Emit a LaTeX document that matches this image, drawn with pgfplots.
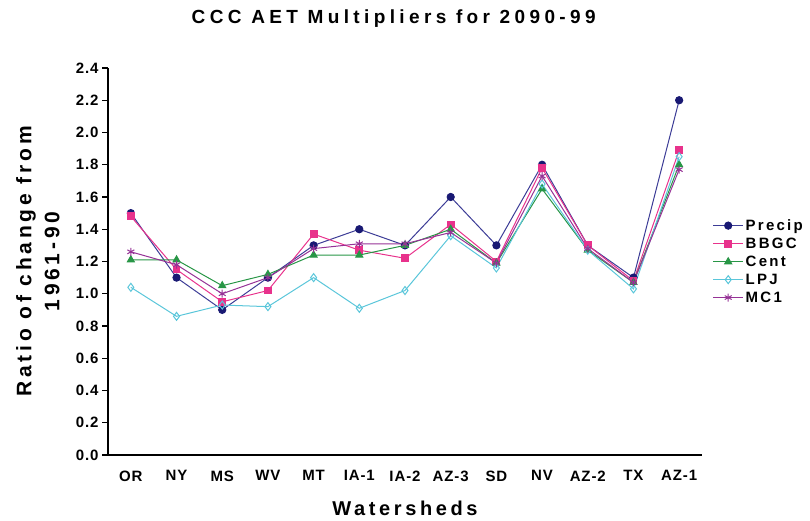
\documentclass[border=0pt]{standalone}
\usepackage{fontspec}
\setmainfont{Liberation Sans}
\newfontfamily\titlefont[LetterSpace=23]{Liberation Sans}
\newfontfamily\labfont[LetterSpace=18]{Liberation Sans}
\newfontfamily\legfont[LetterSpace=15]{Liberation Sans}
\newfontfamily\tickfont[LetterSpace=6]{Liberation Sans}
\usepackage{pgfplots}
\pgfplotsset{compat=1.18}
\definecolor{cprecip}{RGB}{25,25,115}
\definecolor{lprecip}{RGB}{60,60,150}
\definecolor{cbbgc}{RGB}{232,50,140}
\definecolor{ccent}{RGB}{40,150,70}
\definecolor{clpj}{RGB}{90,198,218}
\definecolor{cmc}{RGB}{150,50,150}
\begin{document}
\begin{tikzpicture}[x=1pt,y=1pt]
\path[use as bounding box] (-108,-66) rectangle (702,455);
\begin{axis}[
  at={(0,0)}, anchor=south west,
  scale only axis, width=594pt, height=387pt,
  xmin=-0.5, xmax=12.5, ymin=0, ymax=2.4,
  axis x line=bottom, axis y line=left,
  axis line style={-, line width=1.4pt},
  tick align=outside,
  major tick length=6pt,
  tick style={line width=1.2pt, black},
  xtick={0,...,12},
  xticklabels={OR,NY,MS,WV,MT,IA-1,IA-2,AZ-3,SD,NV,AZ-2,TX,AZ-1},
  x tick style={draw=none},
  extra x ticks={0.5,1.5,...,11.5},
  extra x tick labels={},
  extra x tick style={tick style={draw=black, line width=1.2pt}, major tick length=6pt},
  ytick={0,0.2,...,2.41},
  yticklabel style={/pgf/number format/.cd, fixed, fixed zerofill, precision=1, assume math mode=true},
  ticklabel style={font=\tickfont\bfseries\fontsize{15}{17}\selectfont},
  xticklabel style={yshift=-6pt},
  title={CCC AET Multipliers for 2090-99},
  title style={at={(axis description cs:0.481,1.112)}, anchor=center, font=\titlefont\bfseries\fontsize{19}{21}\selectfont},
  xlabel={Watersheds},
  xlabel style={at={(axis description cs:0.5,-0.137)}, anchor=center, font=\labfont\bfseries\fontsize{20}{22}\selectfont},
  ylabel={Ratio of change from\\1961-90},
  ylabel style={at={(axis description cs:-0.118,0.5)}, anchor=center, rotate=0, align=center,
    font=\labfont\bfseries\fontsize{21}{28}\selectfont},
  clip=false,
  legend style={at={(axis description cs:1.016,0.5)}, anchor=west, draw=none, fill=none,
    font=\legfont\bfseries\fontsize{15}{17}\selectfont, row sep=2pt, inner sep=1pt},
  legend cell align=left,
  legend image code/.code={\draw[mark repeat=2,mark phase=2,#1] plot coordinates {(0pt,0pt) (15pt,0pt) (30pt,0pt)};},
  every axis plot/.append style={line width=1pt},
]
\addplot[color=lprecip, mark=*, mark options={fill=cprecip, draw=cprecip}, mark size=3.6pt]
  coordinates {(0,1.50)(1,1.10)(2,0.90)(3,1.10)(4,1.30)(5,1.40)(6,1.30)(7,1.60)(8,1.30)(9,1.80)(10,1.30)(11,1.10)(12,2.20)};
\addlegendentry{Precip}
\addplot[color=cbbgc, mark=square*, mark options={fill=cbbgc}, mark size=3.4pt]
  coordinates {(0,1.48)(1,1.15)(2,0.95)(3,1.02)(4,1.37)(5,1.27)(6,1.22)(7,1.43)(8,1.20)(9,1.78)(10,1.30)(11,1.08)(12,1.89)};
\addlegendentry{BBGC}
\addplot[color=ccent, mark=triangle*, mark options={fill=ccent}, mark size=4pt]
  coordinates {(0,1.21)(1,1.21)(2,1.05)(3,1.12)(4,1.24)(5,1.24)(6,1.30)(7,1.40)(8,1.19)(9,1.65)(10,1.27)(11,1.07)(12,1.80)};
\addlegendentry{Cent}
\addplot[color=clpj, mark=diamond, mark options={fill=white, line width=1pt}, mark size=4pt]
  coordinates {(0,1.04)(1,0.86)(2,0.93)(3,0.92)(4,1.10)(5,0.91)(6,1.02)(7,1.36)(8,1.16)(9,1.68)(10,1.27)(11,1.03)(12,1.85)};
\addlegendentry{LPJ}
\addplot[color=cmc, mark=asterisk, mark options={line width=1pt}, mark size=4pt]
  coordinates {(0,1.26)(1,1.18)(2,1.00)(3,1.10)(4,1.28)(5,1.31)(6,1.31)(7,1.38)(8,1.19)(9,1.73)(10,1.28)(11,1.07)(12,1.77)};
\addlegendentry{MC1}
\end{axis}
\end{tikzpicture}
\end{document}
